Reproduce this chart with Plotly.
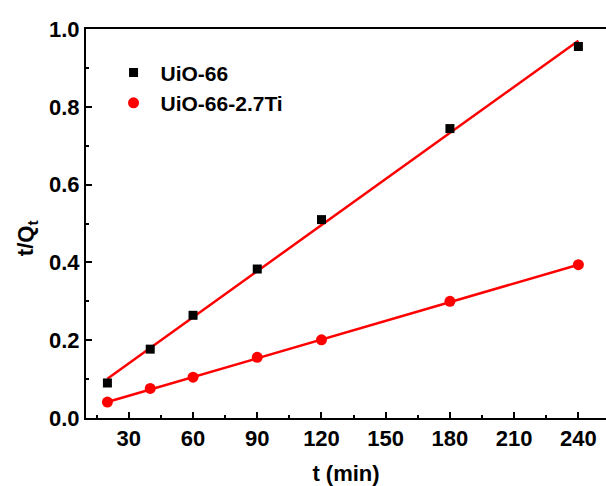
import plotly.graph_objects as go

t_min = [20, 40, 60, 90, 120, 180, 240]
uio66 = [0.090, 0.177, 0.264, 0.383, 0.510, 0.744, 0.955]
uio66_ti = [0.041, 0.076, 0.105, 0.156, 0.201, 0.300, 0.394]
fit_x = [20, 240]
fit_uio66 = [0.101, 0.970]
fit_uio66_ti = [0.041, 0.394]
x_ticks = [30, 60, 90, 120, 150, 180, 210, 240]
y_ticks = [0.0, 0.2, 0.4, 0.6, 0.8, 1.0]

FONT = "Liberation Sans, Arial, sans-serif"
RED = "#ff0000"

fig = go.Figure()
fig.add_trace(go.Scatter(x=fit_x, y=fit_uio66, mode="lines",
                         line=dict(color=RED, width=2.5), showlegend=False))
fig.add_trace(go.Scatter(x=fit_x, y=fit_uio66_ti, mode="lines",
                         line=dict(color=RED, width=2.5), showlegend=False))
fig.add_trace(go.Scatter(x=t_min, y=uio66, mode="markers", name="UiO-66",
                         marker=dict(symbol="square", size=9, color="black")))
fig.add_trace(go.Scatter(x=t_min, y=uio66_ti, mode="markers", name="UiO-66-2.7Ti",
                         marker=dict(symbol="circle", size=11, color=RED)))

fig.update_layout(
    width=606, height=486,
    margin=dict(l=86, r=0, t=29, b=68),
    paper_bgcolor="white", plot_bgcolor="white",
    font=dict(family=FONT, color="black"),
    showlegend=True,
    legend=dict(x=0.0395, y=0.94, xanchor="left", yanchor="top",
                bgcolor="rgba(0,0,0,0)",
                font=dict(family=FONT, size=21, weight="bold"),
                tracegroupgap=0, itemwidth=44),
    annotations=[dict(text="t/Q<sub>t</sub>", xref="paper", yref="paper",
                      x=-0.113, y=0.463, textangle=-90, showarrow=False,
                      xanchor="center", yanchor="middle",
                      font=dict(family=FONT, size=22, weight="bold"))],
)
fig.update_xaxes(
    range=[10, 252.9], tickvals=x_ticks, ticktext=[str(v) for v in x_ticks],
    showline=True, linecolor="black", linewidth=2, mirror=True,
    ticks="inside", ticklen=6, tickwidth=2, tickcolor="black",
    minor=dict(dtick=15, tick0=0, ticks="inside", ticklen=3, tickwidth=2, tickcolor="black"),
    showgrid=False, zeroline=False,
    tickfont=dict(family=FONT, size=22, weight="bold"),
    title=dict(text="t (min)", font=dict(family=FONT, size=22, weight="bold"), standoff=19),
)
fig.update_yaxes(
    range=[0, 1.0], tickvals=y_ticks, ticktext=[f"{v:.1f}" for v in y_ticks],
    showline=True, linecolor="black", linewidth=2, mirror=False,
    ticks="inside", ticklen=6, tickwidth=2, tickcolor="black",
    minor=dict(dtick=0.1, tick0=0, ticks="inside", ticklen=3, tickwidth=2, tickcolor="black"),
    showgrid=False, zeroline=False,
    tickfont=dict(family=FONT, size=22, weight="bold"),
)
fig.write_html("out.html")
